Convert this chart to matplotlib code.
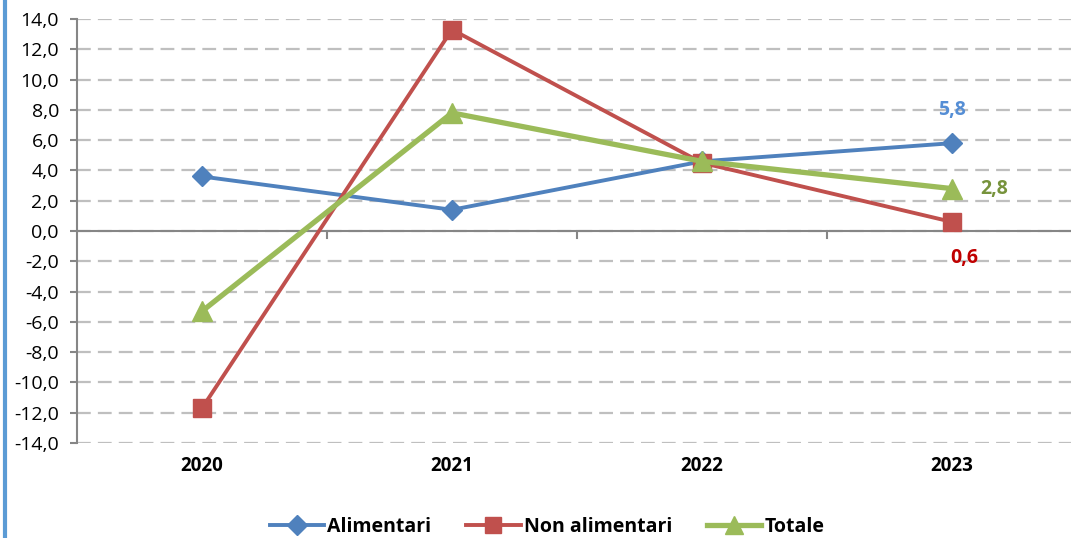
import matplotlib
matplotlib.use("Agg")
import matplotlib.pyplot as plt
from matplotlib.lines import Line2D

years = ["2020", "2021", "2022", "2023"]
alimentari = [3.6, 1.4, 4.6, 5.8]
non_alimentari = [-11.7, 13.3, 4.5, 0.6]
totale = [-5.3, 7.8, 4.6, 2.8]
y_ticks = list(range(-14, 15, 2))

plt.rcParams['font.family'] = ['Open Sans', 'DejaVu Sans']

W, H = 1071, 538
fig = plt.figure(figsize=(W / 100, H / 100), dpi=100)
# axes: x from 77 to 1077 px, y from 19 to 443 px
ax = fig.add_axes([77 / W, 1 - 443 / H, 1000 / W, 424 / H])

x = list(range(len(years)))
blue, red, green = "#4F81BD", "#C0504D", "#9BBB59"

ax.plot(x, alimentari, color=blue, lw=2.8, marker="D", ms=10, zorder=3, label="Alimentari")
ax.plot(x, non_alimentari, color=red, lw=2.8, marker="s", ms=12.5, zorder=3, label="Non alimentari")
ax.plot(x, totale, color=green, lw=3.8, marker="^", ms=14, zorder=3, label="Totale")

ax.set_xlim(-0.5, 3.5)
ax.set_ylim(-14, 14)
ax.set_yticks(y_ticks)
ax.set_yticklabels([f"{v:.1f}".replace(".", ",") for v in y_ticks], fontsize=14)
ax.yaxis.grid(True, color="#BFBFBF", lw=1.6, ls=(0, (6.2, 3.2)))
ax.set_axisbelow(True)

for s in ["top", "right", "bottom"]:
    ax.spines[s].set_visible(False)
ax.spines["left"].set_color("#868686")
ax.spines["left"].set_linewidth(1.5)
ax.tick_params(axis="y", length=5, color="#868686", width=1.5, pad=8)

# x-axis line at zero with boundary ticks
ax.axhline(0, color="#868686", lw=1.5, zorder=2)
ax.set_xticks([])
for b in [0.5, 1.5, 2.5]:
    ax.plot([b, b], [0, -0.45], color="#868686", lw=1.5, zorder=2)
for i, yr in enumerate(years):
    ax.text(i, -15.5, yr, ha="center", va="center", fontsize=13.5, fontweight="bold")

# data labels
ax.text(3, 8.0, "5,8", color="#558ED5", fontsize=14, fontweight="bold", ha="center", va="center")
ax.text(3.17, 2.75, "2,8", color="#77933C", fontsize=14, fontweight="bold", ha="center", va="center")
ax.text(3.05, -1.8, "0,6", color="#C00000", fontsize=14, fontweight="bold", ha="center", va="center")

handles = [
    Line2D([], [], color=blue, lw=2.8, marker="D", ms=10),
    Line2D([], [], color=red, lw=2.8, marker="s", ms=12),
    Line2D([], [], color=green, lw=3.8, marker="^", ms=13),
]
fig.legend(handles, ["Alimentari", "Non alimentari", "Totale"], loc="center",
           bbox_to_anchor=(547 / W, 1 - 527 / H), ncol=3, frameon=False,
           prop={"weight": "bold", "size": 14}, handlelength=2.8, columnspacing=1.8,
           handletextpad=0.15)

# blue frame edge on the left
fig.add_artist(Line2D([5 / W, 5 / W], [0, 1], color="#5B9BD5", lw=3, transform=fig.transFigure))

fig.savefig("out.png", dpi=100)
